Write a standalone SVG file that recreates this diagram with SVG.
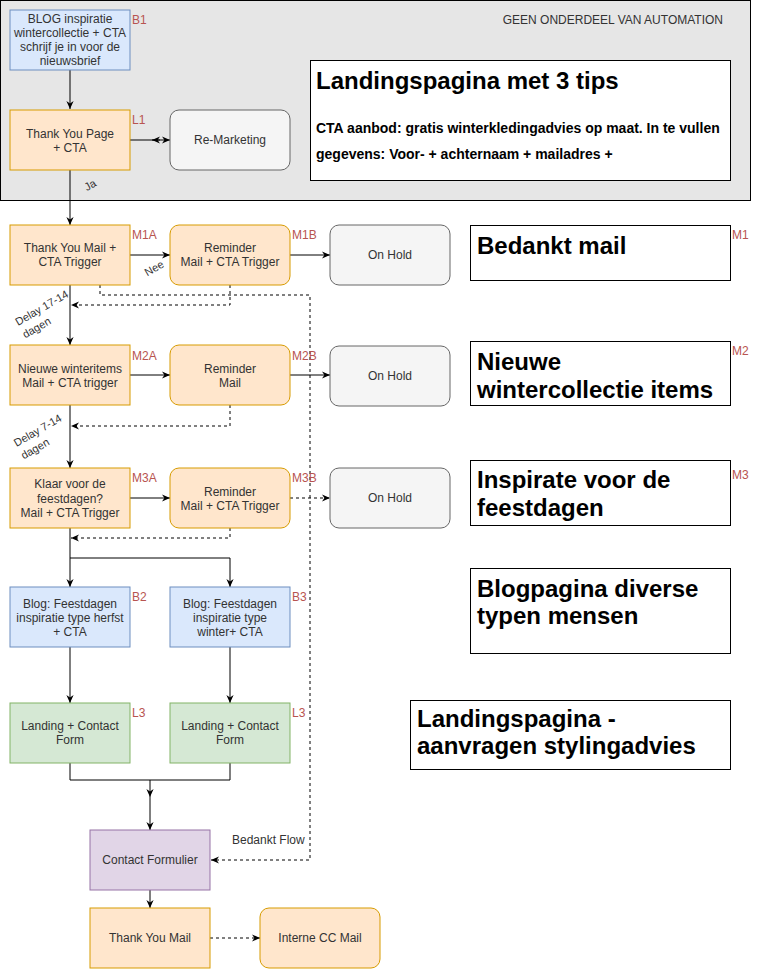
<svg xmlns="http://www.w3.org/2000/svg" width="761" height="969" viewBox="0 0 761 969">
<style>
text{font-family:"Liberation Sans",Arial,Helvetica,sans-serif;}
.t{font-size:12px;fill:#333333;text-anchor:middle;}
.lbl{font-size:12px;fill:#b85450;}
.h{font-size:24px;font-weight:bold;fill:#000;}
.s{font-size:14px;font-weight:bold;fill:#000;}
.e{font-size:11px;fill:#333333;}
.blue{fill:#dae8fc;stroke:#6c8ebf;stroke-width:1;}
.orange{fill:#ffe6cc;stroke:#d79b00;stroke-width:1;}
.gray{fill:#f5f5f5;stroke:#666666;stroke-width:1;}
.green{fill:#d5e8d4;stroke:#82b366;stroke-width:1;}
.purple{fill:#e1d5e7;stroke:#9673a6;stroke-width:1;}
.box{fill:#ffffff;stroke:#000000;stroke-width:1;}
.c{fill:none;stroke:#000;stroke-width:1;marker-end:url(#arr);}
.cn{fill:none;stroke:#000;stroke-width:1;}
.d{stroke-dasharray:3,3;}
</style>
<defs>
<marker id="arr" viewBox="0 0 10 10" refX="10" refY="5" markerWidth="8" markerHeight="8" markerUnits="userSpaceOnUse" orient="auto">
<path d="M0,0.5 L10,5 L0,9.5 L3,5 z" fill="#000"/>
</marker>
</defs>
<rect width="761" height="969" fill="#ffffff"/>

<g id="automation-area">
<rect x="0.5" y="0.5" width="750" height="200" fill="#e6e6e6" stroke="#000" stroke-width="1"/>
<text x="723" y="24" font-size="12px" fill="#333333" text-anchor="end">GEEN ONDERDEEL VAN AUTOMATION</text>
</g>

<g id="connectors">
<path class="c" d="M70,70 V109"/>
<path class="c" d="M130,140 H170"/>
<path class="c" d="M160,140 H152"/>
<path class="c" d="M70,170 V225"/>
<path class="c" d="M130,255 H170"/>
<path class="c" d="M290,255 H330"/>
<path class="c" d="M70,285 V345"/>
<path class="c" d="M130,375 H170"/>
<path class="c" d="M290,375 H330"/>
<path class="c" d="M70,405 V468"/>
<path class="c" d="M130,498 H170"/>
<path class="c d" d="M290,498 H330"/>
<path class="c" d="M70,528 V587"/>
<path class="c" d="M70,558 H230 V587"/>
<path class="c" d="M70,647 V703"/>
<path class="c" d="M230,647 V703"/>
<path class="cn" d="M70,763 V780 H230 V763"/>
<path class="c" d="M150,780 V797"/>
<path class="c" d="M150,797 V830"/>
<path class="c" d="M150,890 V908"/>
<path class="c d" d="M210,938 H260"/>
<path class="c d" d="M100,285 V295 H310 V860 H211"/>
<path class="c d" d="M230,285 V305 H71"/>
<path class="c d" d="M230,405 V426 H71"/>
<path class="c d" d="M230,528 V538 H71"/>
<text class="e" transform="translate(90,185) rotate(-30)" y="4" text-anchor="middle">Ja</text>
<text class="e" transform="translate(154,268) rotate(-30)" y="4" text-anchor="middle">Nee</text>
<text class="e" transform="translate(18,326) rotate(-30)"><tspan x="0" y="0">Delay 17-14</tspan><tspan x="0" y="14.5">dagen</tspan></text>
<text class="e" transform="translate(16.5,447) rotate(-30)"><tspan x="0" y="0">Delay 7-14</tspan><tspan x="0" y="14.5">dagen</tspan></text>
<text x="232" y="844" font-size="12px" fill="#333333">Bedankt Flow</text>
</g>

<g id="B1">
<rect class="blue" x="10" y="10" width="120" height="60"/>
<text class="t"><tspan x="70" y="23">BLOG inspiratie</tspan><tspan x="70" y="37">wintercollectie + CTA</tspan><tspan x="70" y="51">schrijf je in voor de</tspan><tspan x="70" y="65">nieuwsbrief</tspan></text>
<text class="lbl" x="132" y="24">B1</text>
</g>

<g id="L1">
<rect class="orange" x="10" y="110" width="120" height="60"/>
<text class="t"><tspan x="70" y="138">Thank You Page</tspan><tspan x="70" y="152">+ CTA</tspan></text>
<text class="lbl" x="132" y="124">L1</text>
</g>

<g id="remarketing">
<rect class="gray" x="170" y="110" width="120" height="60" rx="9"/>
<text class="t" x="230" y="144">Re-Marketing</text>
</g>

<g id="title-landing">
<rect class="box" x="310.5" y="60.5" width="420" height="120"/>
<text class="h" x="316" y="89">Landingspagina met 3 tips</text>
<text class="s" x="316" y="133">CTA aanbod: gratis winterkledingadvies op maat. In te vullen</text>
<text class="s" x="316" y="159">gegevens: Voor- + achternaam + mailadres +</text>
</g>

<g id="M1A">
<rect class="orange" x="10" y="225" width="120" height="60"/>
<text class="t"><tspan x="70" y="252">Thank You Mail +</tspan><tspan x="70" y="266">CTA Trigger</tspan></text>
<text class="lbl" x="132" y="239">M1A</text>
</g>

<g id="M1B">
<rect class="orange" x="170" y="225" width="120" height="60" rx="9"/>
<text class="t"><tspan x="230" y="252">Reminder</tspan><tspan x="230" y="266">Mail + CTA Trigger</tspan></text>
<text class="lbl" x="292" y="239">M1B</text>
</g>

<g id="onhold1">
<rect class="gray" x="330" y="225" width="120" height="60" rx="9"/>
<text class="t" x="390" y="259">On Hold</text>
</g>

<g id="M1">
<rect class="box" x="470.5" y="225.5" width="260" height="55"/>
<text class="h" x="477" y="254">Bedankt mail</text>
<text class="lbl" x="732" y="239">M1</text>
</g>

<g id="M2A">
<rect class="orange" x="10" y="345" width="120" height="60"/>
<text class="t"><tspan x="70" y="373">Nieuwe winteritems</tspan><tspan x="70" y="387">Mail + CTA trigger</tspan></text>
<text class="lbl" x="132" y="360">M2A</text>
</g>

<g id="M2B">
<rect class="orange" x="170" y="345" width="120" height="60" rx="9"/>
<text class="t"><tspan x="230" y="373">Reminder</tspan><tspan x="230" y="387">Mail</tspan></text>
<text class="lbl" x="292" y="360">M2B</text>
</g>

<g id="onhold2">
<rect class="gray" x="330" y="346" width="120" height="60" rx="9"/>
<text class="t" x="390" y="380">On Hold</text>
</g>

<g id="M2">
<rect class="box" x="470.5" y="341.5" width="260" height="64"/>
<text class="h"><tspan x="477" y="369.5">Nieuwe</tspan><tspan x="477" y="397.5">wintercollectie items</tspan></text>
<text class="lbl" x="732" y="355">M2</text>
</g>

<g id="M3A">
<rect class="orange" x="10" y="468" width="120" height="60"/>
<text class="t"><tspan x="70" y="488">Klaar voor de</tspan><tspan x="70" y="502.5">feestdagen?</tspan><tspan x="70" y="517">Mail + CTA Trigger</tspan></text>
<text class="lbl" x="132" y="482">M3A</text>
</g>

<g id="M3B">
<rect class="orange" x="170" y="468" width="120" height="60" rx="9"/>
<text class="t"><tspan x="230" y="495.5">Reminder</tspan><tspan x="230" y="509.5">Mail + CTA Trigger</tspan></text>
<text class="lbl" x="292" y="482">M3B</text>
</g>

<g id="onhold3">
<rect class="gray" x="330" y="468" width="120" height="60" rx="9"/>
<text class="t" x="390" y="502">On Hold</text>
</g>

<g id="M3">
<rect class="box" x="470.5" y="460.5" width="260" height="65"/>
<text class="h"><tspan x="477" y="488">Inspirate voor de</tspan><tspan x="477" y="515.5">feestdagen</tspan></text>
<text class="lbl" x="732" y="479">M3</text>
</g>

<g id="B2">
<rect class="blue" x="10" y="587" width="120" height="60"/>
<text class="t"><tspan x="70" y="608">Blog: Feestdagen</tspan><tspan x="70" y="622">inspiratie type herfst</tspan><tspan x="70" y="636">+ CTA</tspan></text>
<text class="lbl" x="132" y="601">B2</text>
</g>

<g id="B3">
<rect class="blue" x="170" y="587" width="120" height="60"/>
<text class="t"><tspan x="230" y="608">Blog: Feestdagen</tspan><tspan x="230" y="622">inspiratie type</tspan><tspan x="230" y="636">winter+ CTA</tspan></text>
<text class="lbl" x="292" y="601">B3</text>
</g>

<g id="title-blog">
<rect class="box" x="470.5" y="568.5" width="260" height="85"/>
<text class="h"><tspan x="477" y="596.5">Blogpagina diverse</tspan><tspan x="477" y="624">typen mensen</tspan></text>
</g>

<g id="L3a">
<rect class="green" x="10" y="703" width="120" height="60"/>
<text class="t"><tspan x="70" y="730">Landing + Contact</tspan><tspan x="70" y="744">Form</tspan></text>
<text class="lbl" x="132" y="717">L3</text>
</g>

<g id="L3b">
<rect class="green" x="170" y="703" width="120" height="60"/>
<text class="t"><tspan x="230" y="730">Landing + Contact</tspan><tspan x="230" y="744">Form</tspan></text>
<text class="lbl" x="292" y="717">L3</text>
</g>

<g id="title-landing-styling">
<rect class="box" x="410.5" y="700.5" width="320" height="69"/>
<text class="h"><tspan x="417" y="726.5">Landingspagina -</tspan><tspan x="417" y="754">aanvragen stylingadvies</tspan></text>
</g>

<g id="contact-formulier">
<rect class="purple" x="90" y="830" width="120" height="60"/>
<text class="t" x="150" y="864">Contact Formulier</text>
</g>

<g id="thank-you-mail">
<rect class="orange" x="90" y="908" width="120" height="60"/>
<text class="t" x="150" y="942">Thank You Mail</text>
</g>

<g id="interne-cc-mail">
<rect class="orange" x="260" y="908" width="120" height="60" rx="9"/>
<text class="t" x="320" y="942">Interne CC Mail</text>
</g>
</svg>
